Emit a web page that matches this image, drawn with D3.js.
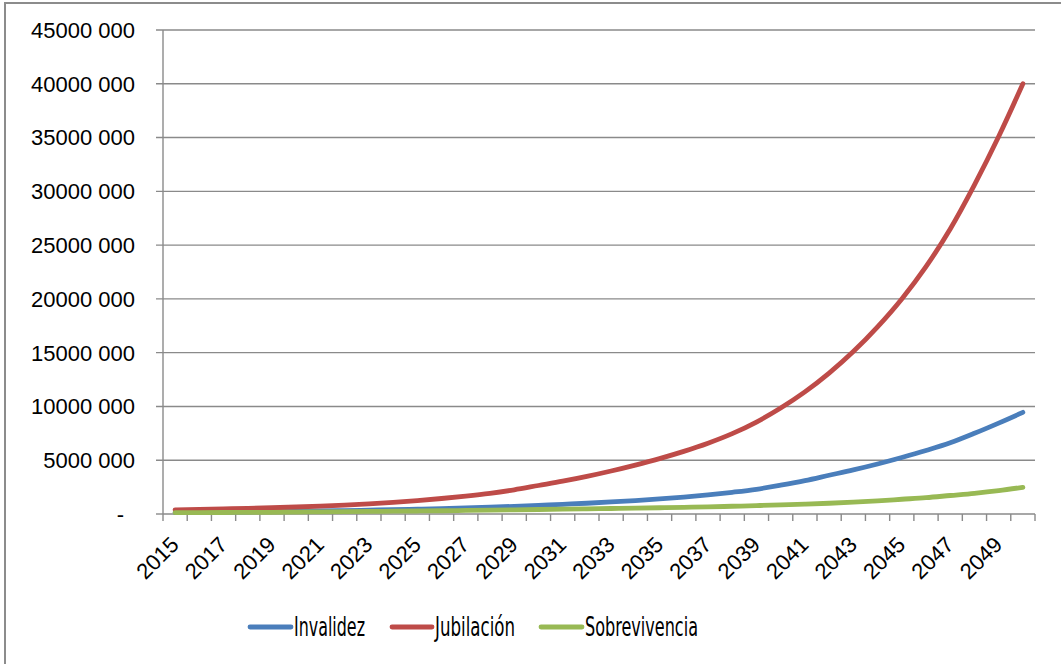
<!DOCTYPE html>
<html>
<head>
<meta charset="utf-8">
<script src="https://cdn.jsdelivr.net/npm/d3@7"></script>
<style>
  html, body { margin: 0; padding: 0; background: #fff; }
  svg { display: block; }
</style>
</head>
<body>
<svg id="chart" width="1061" height="664"></svg>
<script>
// ---- Data ----
const years = [2015,2016,2017,2018,2019,2020,2021,2022,2023,2024,2025,2026,2027,2028,2029,2030,2031,2032,2033,2034,2035,2036,2037,2038,2039,2040,2041,2042,2043,2044,2045,2046,2047,2048,2049,2050];
const invalidez = [150000,170000,190000,210000,230000,260000,290000,320000,360000,400000,450000,500000,560000,630000,710000,800000,900000,1000000,1120000,1250000,1400000,1570000,1780000,2020000,2300000,2680000,3100000,3600000,4100000,4650000,5250000,5900000,6620000,7500000,8450000,9450000];
const jubilacion = [380000,420000,470000,520000,580000,650000,730000,830000,950000,1090000,1250000,1440000,1660000,1920000,2250000,2650000,3050000,3500000,4000000,4550000,5150000,5820000,6580000,7470000,8550000,9850000,11350000,13100000,15100000,17400000,20000000,23000000,26500000,30600000,35100000,40000000];
const sobrevivencia = [120000,130000,140000,150000,160000,180000,200000,220000,240000,260000,280000,300000,330000,360000,390000,420000,450000,480000,510000,540000,580000,620000,660000,720000,780000,850000,920000,1000000,1100000,1220000,1370000,1520000,1720000,1920000,2170000,2480000];
const yTicks = [0,5000000,10000000,15000000,20000000,25000000,30000000,35000000,40000000,45000000];
const xLabelYears = [2015,2017,2019,2021,2023,2025,2027,2029,2031,2033,2035,2037,2039,2041,2043,2045,2047,2049];
const seriesNames = ["Invalidez","Jubilación","Sobrevivencia"];
const seriesColors = ["#4A7EBB","#BE4B48","#98B954"];

const series = [invalidez, jubilacion, sobrevivencia];

// ---- Layout ----
const svg = d3.select("#chart");
const L = 163, R = 1035, T = 30, B = 514;
const gridColor = "#8a8a8a";

// outer border
svg.append("rect")
  .attr("x", 5).attr("y", 3)
  .attr("width", 1080).attr("height", 680)
  .attr("fill", "none").attr("stroke", "#8c8c8c").attr("stroke-width", 2);

const x = d3.scaleBand().domain(years).range([L, R]);
const y = d3.scaleLinear().domain([0, 45000000]).range([B, T]);
const cx = d => x(d) + x.bandwidth() / 2;

// gridlines
svg.append("g").selectAll("line").data(yTicks.filter(d => d > 0)).join("line")
  .attr("x1", L - 7).attr("x2", R)
  .attr("y1", d => y(d)).attr("y2", d => y(d))
  .attr("stroke", gridColor).attr("stroke-width", 1.4);

// y axis line + ticks
svg.append("line").attr("x1", L).attr("x2", L).attr("y1", T).attr("y2", B)
  .attr("stroke", gridColor).attr("stroke-width", 1.4);
svg.append("line").attr("x1", L - 7).attr("x2", L).attr("y1", B).attr("y2", B)
  .attr("stroke", gridColor).attr("stroke-width", 1.4);

// y labels
const fmt = v => v === 0 ? "-" : (v / 1000) + " 000";
svg.append("g").selectAll("text").data(yTicks).join("text")
  .attr("x", d => d === 0 ? 124 : 135)
  .attr("y", d => y(d))
  .attr("dy", "0.36em")
  .attr("text-anchor", "end")
  .attr("font-family", "Liberation Sans, Arial, sans-serif")
  .attr("font-size", 22)
  .attr("fill", "#000")
  .text(fmt);

// x axis line + tick marks between categories
svg.append("line").attr("x1", L).attr("x2", R).attr("y1", B).attr("y2", B)
  .attr("stroke", gridColor).attr("stroke-width", 1.4);
const tickPos = years.map(d => x(d)).concat([R]);
svg.append("g").selectAll("line").data(tickPos).join("line")
  .attr("x1", d => d).attr("x2", d => d)
  .attr("y1", B).attr("y2", B + 7)
  .attr("stroke", gridColor).attr("stroke-width", 1.4);

// x labels
svg.append("g").selectAll("text").data(xLabelYears).join("text")
  .attr("transform", d => `translate(${cx(d) + 5},${B + 32}) rotate(-45)`)
  .attr("text-anchor", "end")
  .attr("font-family", "Liberation Sans, Arial, sans-serif")
  .attr("font-size", 22)
  .attr("fill", "#000")
  .text(d => d);

// lines
const line = d3.line()
  .x((d, i) => cx(years[i]))
  .y(d => y(d))
  .curve(d3.curveMonotoneX);

svg.append("g").selectAll("path").data(series).join("path")
  .attr("d", d => line(d))
  .attr("fill", "none")
  .attr("stroke", (d, i) => seriesColors[i])
  .attr("stroke-width", 4.8)
  .attr("stroke-linecap", "round")
  .attr("stroke-linejoin", "round");

// legend
const legendItems = [
  {x1: 250, x2: 291, tx: 294, w: 71},
  {x1: 392, x2: 432, tx: 435, w: 80},
  {x1: 541, x2: 582, tx: 585, w: 113}
];
const lg = svg.append("g");
legendItems.forEach((it, i) => {
  lg.append("line").attr("x1", it.x1).attr("x2", it.x2).attr("y1", 627).attr("y2", 627)
    .attr("stroke", seriesColors[i]).attr("stroke-width", 4.8).attr("stroke-linecap", "round");
  lg.append("text").attr("x", it.tx).attr("y", 636)
    .attr("font-family", "Liberation Sans Narrow, DejaVu Sans Condensed, Arial Narrow, sans-serif")
    .attr("font-size", 26)
    .attr("textLength", it.w).attr("lengthAdjust", "spacingAndGlyphs")
    .attr("fill", "#000")
    .text(seriesNames[i]);
});
</script>
</body>
</html>
